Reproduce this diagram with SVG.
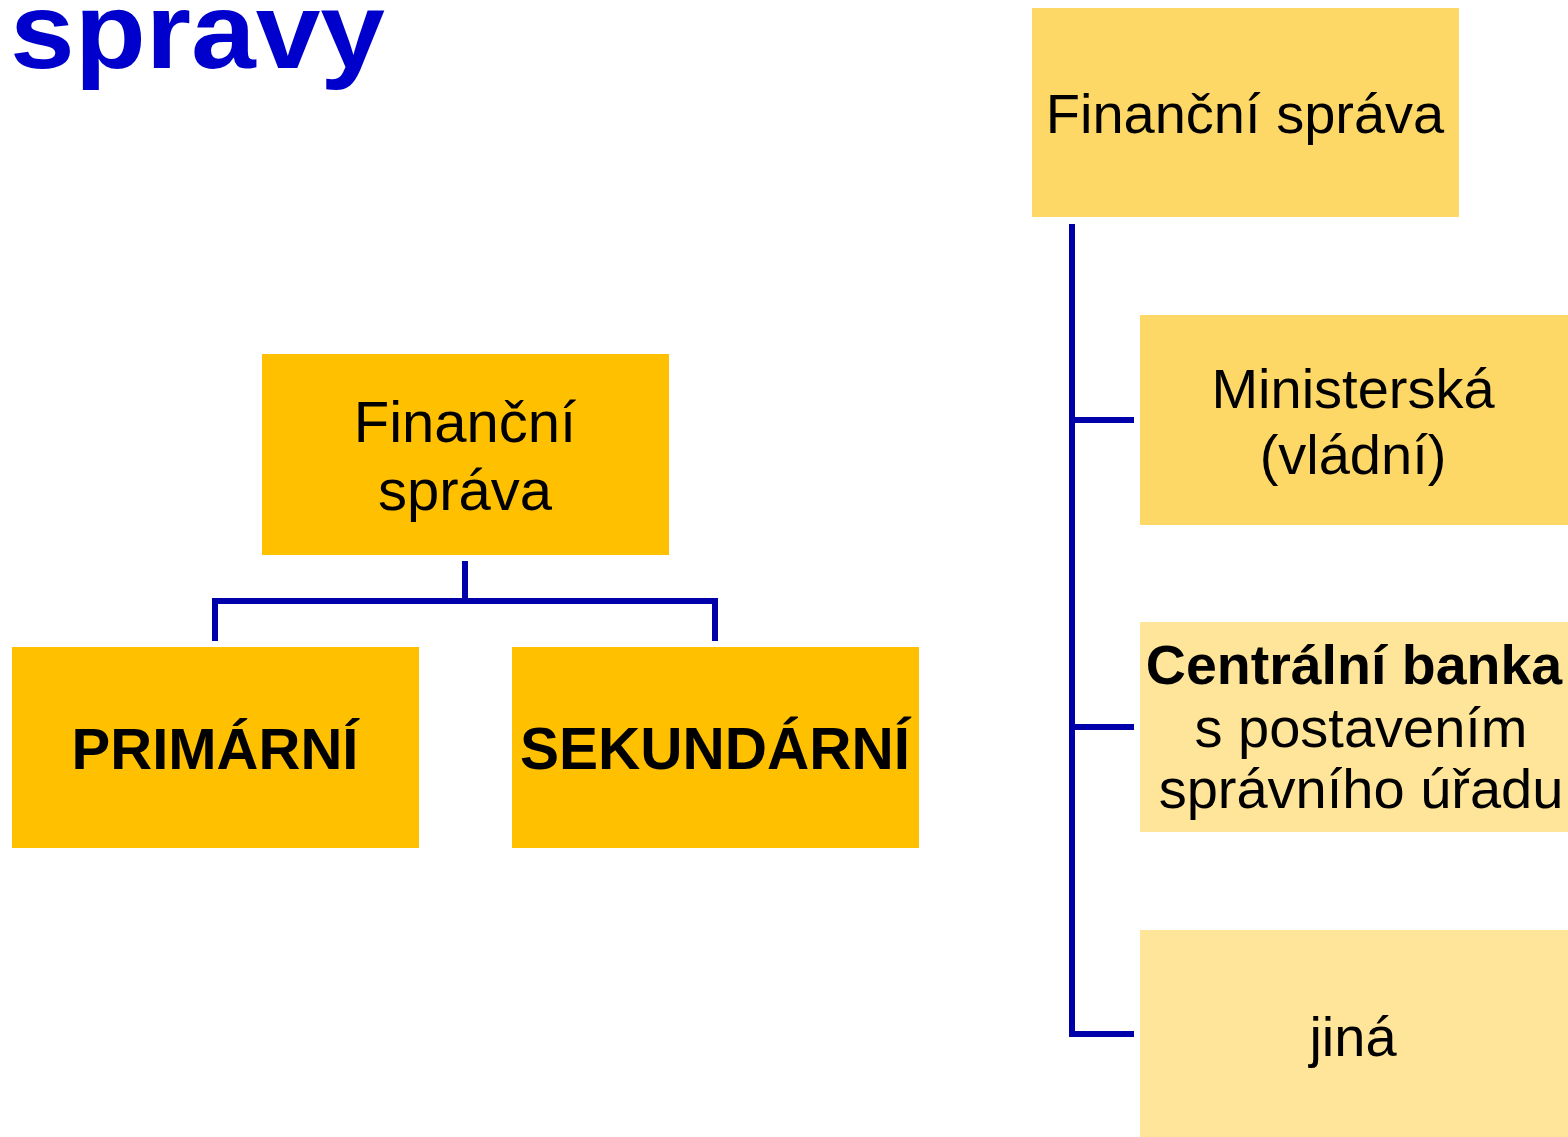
<svg xmlns="http://www.w3.org/2000/svg" width="1568" height="1137" viewBox="0 0 1568 1137">
<style>
.t{font-family:"Liberation Sans",Arial,sans-serif;fill:#000;text-anchor:middle;font-size:56px}
.b{font-weight:bold}
.c{fill:none;stroke:#0000AA;stroke-width:6;stroke-linejoin:miter;stroke-linecap:butt}
.o{fill:#FFC000}
.y1{fill:#FDD867}
.y2{fill:#FEE599}
</style>
<rect width="1568" height="1137" fill="#fff"/>
<text x="10" y="68" font-family="Liberation Sans,Arial,sans-serif" font-weight="bold" font-size="108" fill="#0000CC" textLength="375" lengthAdjust="spacingAndGlyphs">spravy</text>
<g id="connectors">
<path class="c" d="M465,561 V601 M215,641 V601 H715 V641"/>
<path class="c" d="M1072,224 V1034 H1134 M1072,420 H1134 M1072,727 H1134"/>
</g>
<g id="fs-left">
<rect class="o" x="262" y="354" width="407" height="201"/>
<text class="t" x="465" y="442" style="font-size:58px">Finanční</text>
<text class="t" x="465" y="510" style="font-size:58px">správa</text>
</g>
<g id="primarni">
<rect class="o" x="12" y="647" width="407" height="201"/>
<text class="t b" x="215" y="769" style="font-size:58px">PRIMÁRNÍ</text>
</g>
<g id="sekundarni">
<rect class="o" x="512" y="647" width="407" height="201"/>
<text class="t b" x="715" y="769" style="font-size:58.5px">SEKUNDÁRNÍ</text>
</g>
<g id="fs-right">
<rect class="y1" x="1032" y="8" width="427" height="209"/>
<text class="t" x="1245" y="133">Finanční správa</text>
</g>
<g id="ministerska">
<rect class="y1" x="1140" y="315" width="428" height="210"/>
<text class="t" x="1353" y="408">Ministerská</text>
<text class="t" x="1353" y="474">(vládní)</text>
</g>
<g id="centralni">
<rect class="y2" x="1140" y="622" width="428" height="210"/>
<text class="t b" x="1354" y="684" style="font-size:55.5px">Centrální banka</text>
<text class="t" x="1361" y="747">s postavením</text>
<text class="t" x="1361" y="808">správního úřadu</text>
</g>
<g id="jina">
<rect class="y2" x="1140" y="930" width="428" height="207"/>
<text class="t" x="1353" y="1056">jiná</text>
</g>
</svg>
